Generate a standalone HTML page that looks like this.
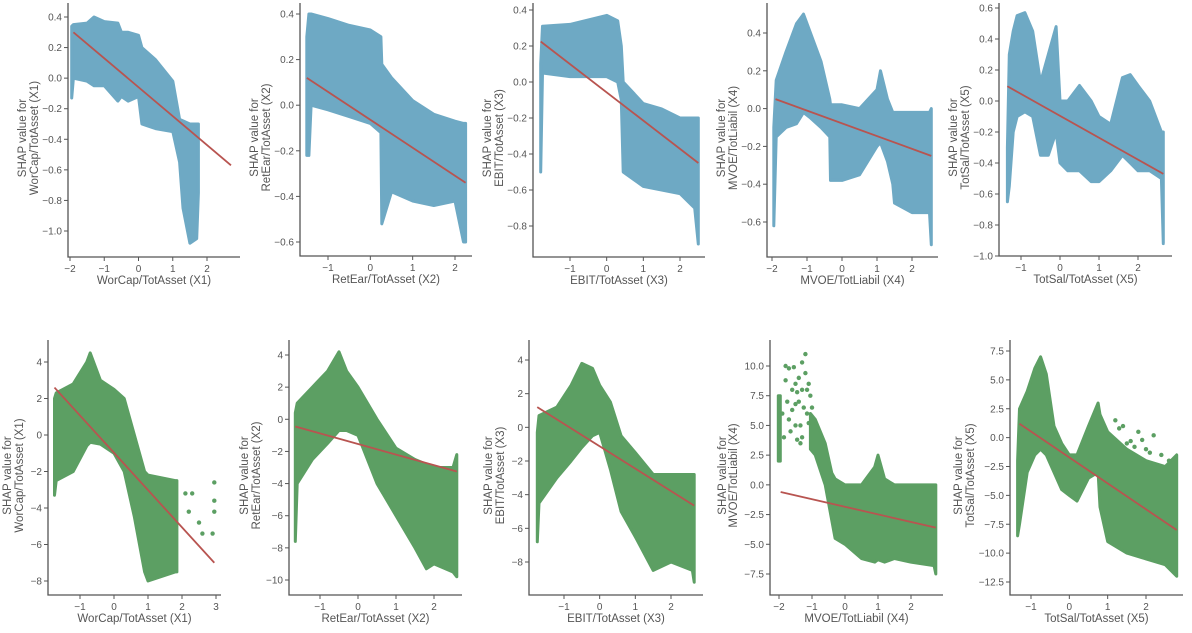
<!DOCTYPE html>
<html><head><meta charset="utf-8">
<style>
html,body{margin:0;padding:0;background:#fff;}
svg{display:block;font-family:"Liberation Sans",sans-serif;}
</style></head>
<body>
<svg id="chart" width="1192" height="633" viewBox="0 0 1192 633"></svg>
<script>
// ---- data (top-level arrays) ----
const p1X=[-1.95,-1.9,-1.5,-1.3,-1.0,-0.6,-0.5,-0.3,0.0,0.1,0.5,1.0,1.2,1.3,1.5,1.7,1.75];
const p1Hi=[0.34,0.35,0.36,0.40,0.37,0.36,0.30,0.30,0.28,0.2,0.12,-0.02,-0.27,-0.28,-0.30,-0.30,-0.30];
const p1Lo=[-0.13,0.0,-0.02,-0.05,-0.05,-0.15,-0.12,-0.15,-0.12,-0.3,-0.33,-0.35,-0.55,-0.85,-1.08,-1.05,-0.75];
const p1Line=[-1.9,0.30,2.7,-0.57];
const p1XT=[-2,-1,0,1,2];
const p1YT=["0.4","0.2","0.0","-0.2","-0.4","-0.6","-0.8","-1.0"];

const p2X=[-1.5,-1.45,-1.4,-1.0,-0.5,0.0,0.25,0.27,0.5,1.0,1.5,2.0,2.2,2.25];
const p2Hi=[0.3,0.40,0.40,0.38,0.35,0.33,0.30,0.18,0.12,0.02,-0.04,-0.07,-0.08,-0.08];
const p2Lo=[-0.22,-0.22,0.0,-0.02,-0.05,-0.08,-0.12,-0.52,-0.38,-0.42,-0.44,-0.42,-0.6,-0.6];
const p2Line=[-1.5,0.12,2.25,-0.34];
const p2XT=[-1,0,1,2];
const p2YT=["0.4","0.2","0.0","-0.2","-0.4","-0.6"];

const p3X=[-1.8,-1.75,-1.0,0.0,0.3,0.4,0.45,1.0,1.5,2.0,2.4,2.5];
const p3Hi=[0.1,0.31,0.32,0.37,0.34,0.2,0.0,-0.12,-0.15,-0.2,-0.2,-0.2];
const p3Lo=[-0.5,0.05,0.03,0.03,0.0,-0.1,-0.5,-0.58,-0.6,-0.62,-0.7,-0.9];
const p3Line=[-1.8,0.225,2.5,-0.45];
const p3XT=[-1,0,1,2];
const p3YT=["0.4","0.2","0.0","-0.2","-0.4","-0.6","-0.8"];

const p4X=[-1.95,-1.88,-1.6,-1.3,-1.1,-0.9,-0.6,-0.35,-0.33,0.0,0.5,1.0,1.1,1.3,1.45,1.5,2.0,2.5,2.55];
const p4Hi=[-0.1,0.15,0.3,0.45,0.5,0.4,0.25,0.05,0.02,0.02,0.0,0.1,0.2,0.05,-0.02,-0.02,-0.02,-0.02,0.0];
const p4Lo=[-0.62,-0.15,-0.1,-0.08,-0.02,-0.05,-0.1,-0.15,-0.38,-0.38,-0.35,-0.2,-0.18,-0.28,-0.4,-0.5,-0.55,-0.55,-0.72];
const p4Line=[-1.9,0.05,2.55,-0.25];
const p4XT=[-2,-1,0,1,2];
const p4YT=["0.4","0.2","0.0","-0.2","-0.4","-0.6"];

const p5X=[-1.35,-1.3,-1.2,-1.1,-0.9,-0.7,-0.5,-0.3,-0.1,0.0,0.2,0.5,0.8,1.0,1.3,1.6,1.8,2.0,2.3,2.6,2.65];
const p5Hi=[-0.3,0.3,0.45,0.55,0.57,0.45,0.12,0.3,0.48,0.0,0.0,0.1,0.0,-0.1,-0.15,0.15,0.17,0.1,0.0,-0.2,-0.2];
const p5Lo=[-0.65,-0.55,-0.2,-0.1,-0.07,-0.1,-0.35,-0.35,-0.2,-0.4,-0.45,-0.45,-0.52,-0.52,-0.45,-0.35,-0.4,-0.45,-0.45,-0.5,-0.92];
const p5Line=[-1.35,0.095,2.65,-0.47];
const p5XT=[-1,0,1,2];
const p5YT=["0.6","0.4","0.2","0.0","-0.2","-0.4","-0.6","-0.8","-1.0"];

const p6X=[-1.75,-1.7,-1.2,-0.8,-0.7,-0.4,0.0,0.3,0.6,0.9,1.0,1.8,1.85];
const p6Hi=[2.0,2.3,2.8,4.0,4.5,3.0,2.5,2.0,0.0,-2.0,-2.2,-2.5,-2.5];
const p6Lo=[-3.3,-2.5,-2.0,-0.6,-0.4,-0.5,-1.0,-2.0,-4.5,-7.5,-8.0,-7.5,-7.5];
const p6Line=[-1.75,2.6,2.95,-7.0];
const p6DotX=[2.1,2.2,2.3,2.5,2.6,2.9,2.95,2.95,2.95];
const p6DotY=[-3.2,-4.2,-3.2,-4.8,-5.4,-5.4,-2.6,-3.6,-4.2];
const p6XT=[-1,0,1,2,3];
const p6YT=["4","2","0","-2","-4","-6","-8"];

const p7X=[-1.65,-1.6,-1.2,-0.8,-0.5,-0.3,0.0,0.5,1.0,1.5,1.8,2.0,2.5,2.6];
const p7Hi=[0.4,1.0,2.0,3.0,4.2,3.0,2.0,0.0,-1.8,-2.5,-2.8,-3.0,-3.0,-2.2];
const p7Lo=[-7.6,-4.0,-2.5,-1.5,-0.7,-0.7,-1.0,-4.0,-6.0,-8.0,-9.3,-9.0,-9.5,-9.8];
const p7Line=[-1.65,-0.45,2.6,-3.25];
const p7XT=[-1,0,1,2];
const p7YT=["4","2","0","-2","-4","-6","-8","-10"];

const p8X=[-1.75,-1.7,-1.2,-0.8,-0.5,-0.2,0.0,0.3,0.6,1.0,1.5,2.0,2.6,2.65];
const p8Hi=[-0.3,0.7,1.2,2.5,3.8,3.5,2.5,1.5,-0.5,-1.5,-2.8,-2.8,-2.8,-2.8];
const p8Lo=[-6.8,-4.5,-3.0,-2.0,-1.2,-0.5,-0.3,-2.5,-5.0,-6.5,-8.5,-8.0,-8.5,-9.2];
const p8Line=[-1.75,1.2,2.65,-4.65];
const p8XT=[-1,0,1,2];
const p8YT=["4","2","0","-2","-4","-6","-8"];

const p9X=[-1.05,-0.9,-0.6,-0.4,-0.3,0.0,0.5,0.9,1.0,1.2,1.5,2.0,2.7,2.75];
const p9Hi=[6.0,5.5,3.5,1.0,0.5,0.0,0.0,1.5,2.5,0.5,0.0,0.0,0.0,0.0];
const p9Lo=[3.0,2.5,0.0,-3.0,-4.5,-5.0,-6.2,-6.5,-6.3,-6.5,-6.2,-6.5,-6.8,-7.5];
const p9BarX=[-2.02,-1.96];
const p9BarHi=[7.5,7.5];
const p9BarLo=[2.0,2.0];
const p9DotX=[-1.8,-1.7,-1.5,-1.3,-1.2,-1.6,-1.4,-1.1,-1.25,-1.5,-1.9,-1.3,-1.8,-1.55,-1.15,-1.05,-1.65,-1.35,-1.45,-1.75,-1.6,-1.4,-1.2,-1.1,-1.5,-1.3,-1.7,-1.85,-1.0,-1.15,-1.35,-1.45];
const p9DotY=[10,9.8,8.5,10.3,11,8,7,8.5,6.5,5,6,4,8.8,9.9,6,7.5,4.5,3.5,7.8,7,6.3,9,9.4,5.2,6.8,8,5.5,4,6.5,8,5,3.8];
const p9Line=[-1.95,-0.6,2.75,-3.6];
const p9XT=[-2,-1,0,1,2];
const p9YT=["10.0","7.5","5.0","2.5","0.0","-2.5","-5.0","-7.5"];

const p10X=[-1.35,-1.3,-1.1,-0.9,-0.75,-0.6,-0.4,-0.2,0.0,0.2,0.5,0.75,0.8,1.0,1.5,2.0,2.5,2.8];
const p10Hi=[-2.0,2.5,4.0,6.0,7.0,5.5,1.0,-0.5,-1.5,-1.5,1.0,3.0,2.0,0.5,-1.0,-2.0,-2.5,-1.5];
const p10Lo=[-8.5,-7.5,-3.0,-1.5,-1.0,-1.5,-3.0,-4.5,-5.0,-5.5,-3.5,-3.0,-6.0,-9.0,-10.0,-10.5,-11.0,-12.0];
const p10DotX=[1.2,1.4,1.6,1.8,2.0,2.2,2.4,1.3,1.7,2.1,2.6,1.5,1.9];
const p10DotY=[1.5,1.0,-0.3,0.5,-1.0,0.2,-1.5,0.8,-0.8,-1.3,-2.0,-0.5,-0.2];
const p10Line=[-1.3,1.2,2.8,-8.0];
const p10XT=[-1,0,1,2];
const p10YT=["7.5","5.0","2.5","0.0","-2.5","-5.0","-7.5","-10.0","-12.5"];

// ---- layout ----
const BLUE="#6ea9c4", GREEN="#5c9f63", RED="#b85450", AX="#555";
const panels=[
 {id:1,L:68,R:240,T:3,B:257,xa:[-2,70],xb:[2,207],ya:[0.4,17],yb:[-1.0,231],X:p1X,Hi:p1Hi,Lo:p1Lo,line:p1Line,xt:p1XT,yt:p1YT,c:BLUE,xl:"WorCap/TotAsset (X1)",yl:"WorCap/TotAsset (X1)",lo:[46,34]},
 {id:2,L:300,R:472,T:3,B:256,xa:[-1,328],xb:[2,455],ya:[0.4,14],yb:[-0.6,242],X:p2X,Hi:p2Hi,Lo:p2Lo,line:p2Line,xt:p2XT,yt:p2YT,c:BLUE,xl:"RetEar/TotAsset (X2)",yl:"RetEar/TotAsset (X2)",lo:[46,34]},
 {id:3,L:533,R:705,T:3,B:257,xa:[-1,570],xb:[2,680],ya:[0.4,10],yb:[-0.8,226],X:p3X,Hi:p3Hi,Lo:p3Lo,line:p3Line,xt:p3XT,yt:p3YT,c:BLUE,xl:"EBIT/TotAsset (X3)",yl:"EBIT/TotAsset (X3)",lo:[46,34]},
 {id:4,L:767,R:938,T:3,B:257,xa:[-2,772],xb:[2,912],ya:[0.4,33],yb:[-0.6,222],X:p4X,Hi:p4Hi,Lo:p4Lo,line:p4Line,xt:p4XT,yt:p4YT,c:BLUE,xl:"MVOE/TotLiabil (X4)",yl:"MVOE/TotLiabil (X4)",lo:[46,34]},
 {id:5,L:999,R:1172,T:3,B:256,xa:[-1,1021],xb:[2,1138],ya:[0.6,8],yb:[-1.0,256],X:p5X,Hi:p5Hi,Lo:p5Lo,line:p5Line,xt:p5XT,yt:p5YT,c:BLUE,xl:"TotSal/TotAsset (X5)",yl:"TotSal/TotAsset (X5)",lo:[46,34]},
 {id:6,L:48,R:221,T:340,B:595,xa:[-1,80],xb:[3,216],ya:[4,362],yb:[-8,581],X:p6X,Hi:p6Hi,Lo:p6Lo,line:p6Line,dx:p6DotX,dy:p6DotY,xt:p6XT,yt:p6YT,c:GREEN,xl:"WorCap/TotAsset (X1)",yl:"WorCap/TotAsset (X1)",lo:[41,29]},
 {id:7,L:289,R:462,T:340,B:595,xa:[-1,320],xb:[2,434],ya:[4,355],yb:[-10,580],X:p7X,Hi:p7Hi,Lo:p7Lo,line:p7Line,xt:p7XT,yt:p7YT,c:GREEN,xl:"RetEar/TotAsset (X2)",yl:"RetEar/TotAsset (X2)",lo:[45,33]},
 {id:8,L:529,R:703,T:340,B:595,xa:[-1,564],xb:[2,671],ya:[4,360],yb:[-8,562],X:p8X,Hi:p8Hi,Lo:p8Lo,line:p8Line,xt:p8XT,yt:p8YT,c:GREEN,xl:"EBIT/TotAsset (X3)",yl:"EBIT/TotAsset (X3)",lo:[41,29]},
 {id:9,L:770,R:943,T:340,B:595,xa:[-2,779],xb:[2,911],ya:[10,366],yb:[-7.5,574],X:p9X,Hi:p9Hi,Lo:p9Lo,bar:[p9BarX,p9BarHi,p9BarLo],line:p9Line,dx:p9DotX,dy:p9DotY,xt:p9XT,yt:p9YT,c:GREEN,xl:"MVOE/TotLiabil (X4)",yl:"MVOE/TotLiabil (X4)",lo:[48,37]},
 {id:10,L:1010,R:1183,T:340,B:595,xa:[-1,1031],xb:[2,1146],ya:[7.5,351],yb:[-12.5,582],X:p10X,Hi:p10Hi,Lo:p10Lo,line:p10Line,dx:p10DotX,dy:p10DotY,xt:p10XT,yt:p10YT,c:GREEN,xl:"TotSal/TotAsset (X5)",yl:"TotSal/TotAsset (X5)",lo:[52,40]}
];
const NS="http://www.w3.org/2000/svg";
const svg=document.getElementById('chart');
function mk(tag,attrs,parent){const e=document.createElementNS(NS,tag);for(const k in attrs)e.setAttribute(k,attrs[k]);(parent||svg).appendChild(e);return e;}

panels.forEach(p=>{
  const sx=v=>p.xa[1]+(v-p.xa[0])*(p.xb[1]-p.xa[1])/(p.xb[0]-p.xa[0]);
  const sy=v=>p.ya[1]+(v-p.ya[0])*(p.yb[1]-p.ya[1])/(p.yb[0]-p.ya[0]);
  const g=mk('g',{});
  
  
  function band(X,Hi,Lo,name){
    let pts=X.map((x,i)=>sx(x).toFixed(1)+','+sy(Hi[i]).toFixed(1));
    for(let i=X.length-1;i>=0;i--)pts.push(sx(X[i]).toFixed(1)+','+sy(Lo[i]).toFixed(1));
    const poly=mk('polygon',{points:pts.join(' '),fill:p.c,stroke:p.c,'stroke-width':3,'stroke-linejoin':'round'},g);
    
    
  }
  band(p.X,p.Hi,p.Lo,'scatter-cloud');
  if(p.bar)band(p.bar[0],p.bar[1],p.bar[2],'scatter-edge-band');
  if(p.dx)p.dx.forEach((x,i)=>{
    const c=mk('circle',{cx:sx(x),cy:sy(p.dy[i]),r:2.2,fill:p.c},g);
    
    
  });
  const ln=mk('line',{x1:sx(p.line[0]),y1:sy(p.line[1]),x2:sx(p.line[2]),y2:sy(p.line[3]),stroke:RED,'stroke-width':1.8},g);
  
  
  const sp=mk('path',{d:`M${p.L},${p.T}V${p.B}H${p.R}`,fill:'none',stroke:AX,'stroke-width':1.3},g);
  
  
  p.xt.forEach(v=>{
    const x=sx(v);
    mk('line',{x1:x,y1:p.B,x2:x,y2:p.B+4,stroke:AX,'stroke-width':1},g);
    const t=mk('text',{x:x,y:p.B+15,'font-size':10,fill:'#555','text-anchor':'middle'},g);
    t.textContent=(v<0?'\u2212'+(-v):String(v));
    
    
  });
  p.yt.forEach(s=>{
    const y=sy(parseFloat(s));
    mk('line',{x1:p.L-4,y1:y,x2:p.L,y2:y,stroke:AX,'stroke-width':1},g);
    const t=mk('text',{x:p.L-6,y:y+3.5,'font-size':10,fill:'#555','text-anchor':'end'},g);
    t.textContent=s.replace('-','\u2212');
    
    
  });
  const xl=mk('text',{x:(p.L+p.R)/2,y:p.B+27,'font-size':11.5,fill:'#555','text-anchor':'middle'},g);
  xl.textContent=p.xl;
  
  
  const cy=(p.T+p.B)/2+8;
  const y1=mk('text',{x:0,y:0,'font-size':11.5,fill:'#555','text-anchor':'middle',transform:`translate(${p.L-p.lo[0]+4},${cy}) rotate(-90)`},g);
  y1.textContent='SHAP value for';
  
  
  const y2=mk('text',{x:0,y:0,'font-size':11.5,fill:'#555','text-anchor':'middle',transform:`translate(${p.L-p.lo[1]+4},${cy}) rotate(-90)`},g);
  y2.textContent=p.yl;
  
  
});
</script>
</body></html>
